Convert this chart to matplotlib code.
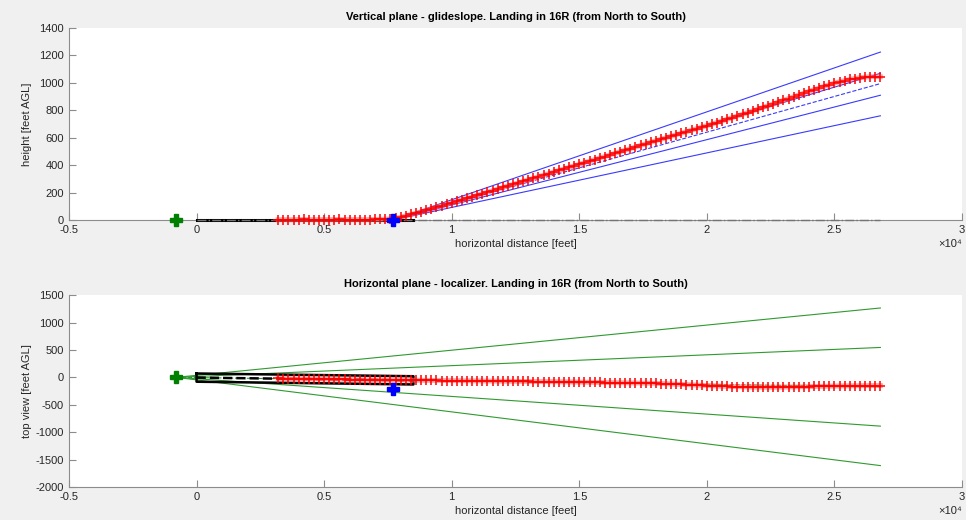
import matplotlib

matplotlib.use("Agg")

import matplotlib.pyplot as plt
import numpy as np
from matplotlib.ticker import FuncFormatter, MultipleLocator


# aircraft track samples, every 200 ft from 3200 to 26800 ft
track_x = np.arange(3200, 26801, 200)
track_height = [
    2, 3, 2, 2, 3, 4, 3, 2, 3, 3, 2, 3, 4, 3, 2, 3, 3, 2, 3, 4, 5, 6, 8,
    12, 20, 30, 40, 50, 60, 70, 81, 92, 103, 114, 125, 136, 147, 158, 169,
    180, 192, 203, 214, 225, 237, 248, 259, 270, 282, 293, 304, 316, 327,
    338, 350, 361, 372, 384, 395, 406, 418, 429, 440, 452, 463, 475, 486,
    498, 509, 521, 532, 544, 555, 567, 578, 589, 600, 611, 622, 633, 644,
    655, 666, 677, 688, 700, 711, 723, 735, 747, 759, 771, 783, 796, 808,
    821, 834, 847, 860, 873, 886, 899, 912, 925, 938, 951, 963, 975, 987,
    998, 1008, 1017, 1025, 1032, 1038, 1042, 1045, 1046, 1045,
]
track_lateral = [
    -20, -22, -23, -25, -26, -28, -29, -30, -32, -33, -35, -36, -37, -39, -40,
    -41, -42, -43, -44, -45, -46, -47, -48, -49, -50, -51, -52, -53, -54, -55,
    -56, -57, -58, -59, -60, -61, -62, -63, -64, -65, -66, -67, -68, -69, -70,
    -71, -72, -73, -74, -75,
    -76, -77, -78, -79, -80, -82, -83, -84, -86, -87, -88, -90, -91, -93, -95,
    -96, -98, -99, -100, -102, -103, -105, -106, -108, -110,
    -113, -117, -121, -125, -129, -133, -137, -141, -145, -150,
    -154, -158, -162, -165, -168, -171, -173, -175,
    -177, -178, -179, -180, -180,
    -179, -178, -177, -175, -173, -171, -169,
    -167, -165, -163, -161, -159, -157, -156, -155,
    -154, -153, -152, -151, -150, -150,
]

# reference points
green_pt = (-800, 0)          # localizer antenna
blue_pt_v = (7700, 0)         # glideslope antenna, vertical view
blue_pt_h = (7700, -210)      # glideslope antenna, top view

# runway (16R, 8500 ft)
runway_len = 8500
runway_edge_x = [0, 8500, 8500, 0, 0]
runway_edge_y = [70, 20, -130, -80, 70]
runway_center_y = [-5, -55]

# glideslope sector lines, heights at the far end
beam_end_x = 26800
gs_end = [1225, 1070, 995, 910, 760]
gs_style = ["-", "-", "--", "-", "-"]
# localizer sector lines, lateral offsets at the far end
loc_end = [1265, 545, -170, -890, -1610]
loc_style = ["-", "-", "--", "-", "-"]

TXT = "#262626"
AXC = "#8c8c8c"

plt.rcParams.update({
    "font.family": ["Liberation Sans", "DejaVu Sans"],
    "font.size": 8,
    "axes.unicode_minus": False,
    "axes.edgecolor": AXC,
    "axes.linewidth": 0.8,
    "xtick.color": AXC,
    "ytick.color": AXC,
    "xtick.labelcolor": TXT,
    "ytick.labelcolor": TXT,
    "xtick.direction": "in",
    "ytick.direction": "in",
    "xtick.major.size": 5,
    "ytick.major.size": 5,
})

fig = plt.figure(figsize=(9.66, 5.2), dpi=100, facecolor="#f0f0f0")
ax1 = fig.add_axes([0.0714, 0.577, 0.9245, 0.369])
ax2 = fig.add_axes([0.0714, 0.0635, 0.9245, 0.369])


def style_axes(ax, title, ylabel):
    for side in ("top", "right"):
        ax.spines[side].set_visible(False)
    ax.set_xlim(-5000, 30000)
    ax.xaxis.set_major_locator(MultipleLocator(5000))
    ax.xaxis.set_major_formatter(FuncFormatter(lambda v, p: f"{v / 1e4:g}"))
    ax.set_xlabel("horizontal distance [feet]", color=TXT, labelpad=3)
    ax.set_ylabel(ylabel, color=TXT)
    ax.yaxis.set_label_coords(-0.041, 0.5)
    ax.set_title(title, fontsize=8, fontweight="bold", color="black", pad=6)
    ax.text(1.0, -0.1, "×10⁴", transform=ax.transAxes, ha="right", va="top",
            color=TXT, fontsize=8)


def draw_track(ax, y):
    ax.plot(track_x, y, "-", color="#ff6666", lw=3.5, alpha=0.6, zorder=4,
            clip_on=False)
    ax.plot(track_x, y, "+", color="red", ms=7, mew=1.1, zorder=4, clip_on=False)


# vertical plane
ax1.plot([0, runway_len], [0, 0], color="black", lw=2.2, zorder=3, clip_on=False)
ax1.plot([0, beam_end_x], [0, 0], color="0.45", lw=1, ls="-.", zorder=3,
         clip_on=False)
for end, ls in zip(gs_end, gs_style):
    ax1.plot([blue_pt_v[0], beam_end_x], [blue_pt_v[1], end], color="#3a3aff",
             lw=0.8, ls=ls, zorder=3)
draw_track(ax1, track_height)
ax1.plot(*green_pt, "P", color="green", ms=9, zorder=5, clip_on=False)
ax1.plot(*blue_pt_v, "P", color="blue", ms=9, zorder=5, clip_on=False)
ax1.set_ylim(0, 1400)
ax1.yaxis.set_major_locator(MultipleLocator(200))
style_axes(ax1, "Vertical plane - glideslope. Landing in 16R (from North to South)",
           "height [feet AGL]")

# horizontal plane
for end, ls in zip(loc_end, loc_style):
    ax2.plot([green_pt[0], beam_end_x], [green_pt[1], end], color="#2f9a2f",
             lw=0.8, ls=ls, zorder=2)
ax2.plot(runway_edge_x, runway_edge_y, color="black", lw=1.8, zorder=3)
ax2.plot([0, runway_len], runway_center_y, color="black", lw=1.8, ls="--", zorder=3)
draw_track(ax2, track_lateral)
ax2.plot(*green_pt, "P", color="green", ms=9, zorder=5)
ax2.plot(*blue_pt_h, "P", color="blue", ms=9, zorder=5)
ax2.set_ylim(-2000, 1500)
ax2.yaxis.set_major_locator(MultipleLocator(500))
style_axes(ax2, "Horizontal plane - localizer. Landing in 16R (from North to South)",
           "top view [feet AGL]")

fig.savefig("out.png", dpi=100, facecolor=fig.get_facecolor())
